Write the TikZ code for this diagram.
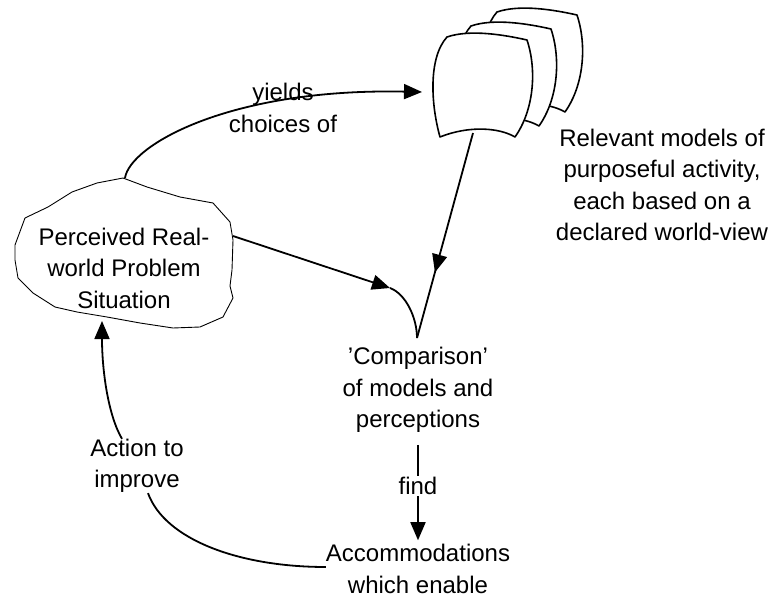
\documentclass[tikz,border=0pt]{standalone}
\usepackage{fontspec}
\setmainfont{Liberation Sans}
\usetikzlibrary{arrows.meta,decorations.markings}
\begin{document}
\begin{tikzpicture}[x=1pt,y=-1pt,
  txt/.style={align=center,font=\fontsize{24}{31.5}\selectfont,inner sep=0pt},
  conn/.style={line width=1.8pt},
  tip/.style={-{Triangle[length=18pt,width=15pt]}},
  midtip/.style={postaction={decorate},decoration={markings,mark=at position #1 with {\arrow{Triangle[length=18pt,width=15pt]}}}},
  sheet/.style={fill=white,line width=1.6pt,line join=round},
  cloudline/.style={line width=0.9pt,fill=white,line join=round}]
\useasboundingbox (0,0) rectangle (772,599);

% cloud
\draw[cloudline] (15,245) -- (25,218) -- (48,207) -- (72,192) -- (97,183) -- (123,178) -- (147,187) -- (180,197) -- (213,203) -- (230,222) -- (233,240) -- (232,270) -- (230,286) -- (233,298) -- (223,317) -- (200,327) -- (173,328) -- (140,323) -- (107,317) -- (77,312) -- (55,307) -- (33,293) -- (18,278) -- (15,260) -- cycle;
\node[txt] (cloud) at (124,268) {Perceived Real-\\world Problem\\Situation};
\coordinate (cloudtop) at (125,178);
\coordinate (cloudright) at (233,236);
\coordinate (cloudbot) at (102,321);

% sheets
\foreach \dx/\dy in {50/-25,24/-11,0/0}
  \draw[sheet,shift={(\dx,\dy)}] (440,137) .. controls (431,105) and (428,58) .. (447,37) .. controls (470,29) and (505,35) .. (527,40) .. controls (537,70) and (534,110) .. (515,137) .. controls (500,128) and (470,125) .. (440,137) -- cycle;
\coordinate (pagesleft) at (422,92);
\coordinate (pagesbot) at (473,133);

% text nodes
\node[txt] (yl) at (283,108) {yields\\choices of};
\node[txt] (rel) at (662,185) {Relevant models of\\purposeful activity,\\each based on a\\declared world-view};
\node[txt] (cmp) at (418,390) {'Comparison'\\of models and\\perceptions};
\node[txt] (acc) at (418,569) {Accommodations\\which enable};
\node[txt] (act) at (137,466) {Action to\\improve};
\coordinate (join) at (417,338);
\coordinate (cj) at (390,288);

% connectors
\draw[conn,tip] (cloudtop) .. controls (130,145) and (230,88) .. (pagesleft);
\draw[conn,midtip=0.68] (pagesbot) -- (join);
\draw[conn,tip] (cloudright) -- (cj);
\draw[conn] (cj) .. controls (406,294) and (417,318) .. (join);
\draw[conn,tip] ([yshift=-12pt]cmp.south) -- node[pos=0.43,txt,fill=white,inner sep=1pt] (find) {find} ([yshift=4pt]acc.north);
\draw[conn] ([yshift=2pt]acc.west) .. controls (240,567) and (165,540) .. ([xshift=11pt]act.south);
\draw[conn,tip] ([xshift=-15pt]act.north) .. controls (108,415) and (102,370) .. (cloudbot);
\end{tikzpicture}
\end{document}
